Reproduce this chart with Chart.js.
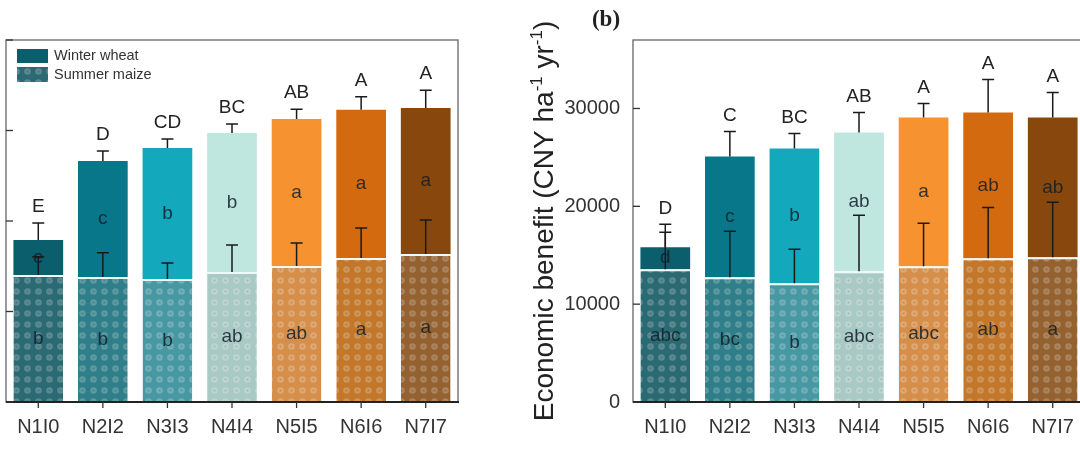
<!DOCTYPE html>
<html>
<head>
<meta charset="utf-8">
<script src="https://cdn.jsdelivr.net/npm/chart.js"></script>
<style>
  body { margin: 0; background: #fff; overflow: hidden; width: 1080px; height: 459px; position: relative; }
  canvas { position: absolute; top: 0; }
</style>
</head>
<body>
<canvas id="chartA" width="500" height="459" style="left:0"></canvas>
<canvas id="chartB" width="620" height="459" style="left:480px"></canvas>
<script>
const categories = ['N1I0', 'N2I2', 'N3I3', 'N4I4', 'N5I5', 'N6I6', 'N7I7'];

// panel (a) - tick labels are cut off in the source, values read on a 0-20000 scale
const leftMaize = [7020, 6910, 6800, 7180, 7510, 7960, 8180];
const leftWheat = [1930, 6410, 7230, 7680, 8120, 8180, 8060];
const leftTotalErr = [940, 550, 500, 500, 550, 720, 990];
const leftMaizeErr = [1000, 1330, 880, 1490, 1270, 1660, 1880];
const leftTopLetters = ['E', 'D', 'CD', 'BC', 'AB', 'A', 'A'];
const leftWheatLetters = ['e', 'c', 'b', 'b', 'a', 'a', 'a'];
const leftMaizeLetters = ['b', 'b', 'b', 'ab', 'ab', 'a', 'a'];
const leftTicks = [0, 5000, 10000, 15000, 20000];

// panel (b) - economic benefit
const rightMaize = [13570, 12760, 12140, 13370, 13880, 14690, 14800];
const rightWheat = [2250, 12340, 13780, 14180, 15200, 14900, 14280];
const rightTotalErr = [1530, 2550, 1530, 2040, 1430, 3370, 2550];
const rightMaizeErr = [4590, 4690, 3470, 5710, 4390, 5200, 5610];
const rightTopLetters = ['D', 'C', 'BC', 'AB', 'A', 'A', 'A'];
const rightWheatLetters = ['d', 'c', 'b', 'ab', 'a', 'ab', 'ab'];
const rightMaizeLetters = ['abc', 'bc', 'b', 'abc', 'abc', 'ab', 'a'];
const rightTicks = [0, 10000, 20000, 30000];

const wheatColors = ['#0b5e6b', '#08778a', '#13a8bc', '#bfe6df', '#f6922f', '#d46a10', '#87470d'];
const maizeColors = ['#2b6a72', '#2f7e89', '#4898a4', '#a9c9c5', '#d68f4a', '#c2772a', '#946130'];

const FONT = "'Liberation Sans', Arial, sans-serif";

// dotted fill used for the summer maize part
function dotPattern(base) {
    const c = document.createElement('canvas');
    c.width = 11; c.height = 11;
    const g = c.getContext('2d');
    g.fillStyle = base;
    g.fillRect(0, 0, 11, 11);
    g.fillStyle = 'rgba(255,255,255,0.22)';
    g.beginPath(); g.arc(5.5, 5.5, 3.3, 0, Math.PI * 2); g.fill();
    g.fillStyle = 'rgba(0,0,0,0.12)';
    g.beginPath(); g.arc(5.5, 5.5, 1.1, 0, Math.PI * 2); g.fill();
    return g.createPattern(c, 'repeat');
}

function errBar(ctx, x, y0, y1) {
    ctx.beginPath();
    ctx.moveTo(x, y0); ctx.lineTo(x, y1);
    ctx.moveTo(x - 6, y1); ctx.lineTo(x + 6, y1);
    ctx.stroke();
}

function makeDecor(d) {
    return {
        id: 'decor',
        afterDraw(chart) {
            const { ctx, chartArea: a, scales: { x, y } } = chart;
            ctx.save();

            // frame
            ctx.strokeStyle = '#666';
            ctx.lineWidth = 1.3;
            ctx.strokeRect(a.left, a.top, a.right - a.left, a.bottom - a.top);
            ctx.strokeStyle = '#222';
            ctx.lineWidth = 2;
            ctx.beginPath(); ctx.moveTo(a.left, a.bottom); ctx.lineTo(a.right + 1, a.bottom); ctx.stroke();

            // inward y ticks, outward x ticks
            ctx.lineWidth = 1.3;
            ctx.strokeStyle = '#333';
            y.ticks.forEach(t => {
                const py = y.getPixelForValue(t.value);
                ctx.beginPath(); ctx.moveTo(a.left, py); ctx.lineTo(a.left + 7, py); ctx.stroke();
            });
            categories.forEach((c, i) => {
                const px = x.getPixelForValue(i);
                ctx.beginPath(); ctx.moveTo(px, a.bottom); ctx.lineTo(px, a.bottom + 6); ctx.stroke();
            });

            // error bars
            ctx.strokeStyle = '#1a1a1a';
            ctx.lineWidth = 1.5;
            categories.forEach((c, i) => {
                const px = x.getPixelForValue(i);
                const m = d.maize[i], total = d.maize[i] + d.wheat[i];
                errBar(ctx, px, y.getPixelForValue(m), y.getPixelForValue(m + d.maizeErr[i]));
                errBar(ctx, px, y.getPixelForValue(total), y.getPixelForValue(total + d.totalErr[i]));
            });

            // letters
            ctx.textAlign = 'center';
            ctx.textBaseline = 'middle';
            categories.forEach((c, i) => {
                const px = x.getPixelForValue(i);
                const m = d.maize[i], total = d.maize[i] + d.wheat[i];
                const capTop = Math.min(y.getPixelForValue(m + d.maizeErr[i]), y.getPixelForValue(total + d.totalErr[i]));
                ctx.fillStyle = '#222';
                ctx.font = '19px ' + FONT;
                ctx.fillText(d.top[i], px, capTop - 16);
                ctx.fillStyle = 'rgba(18,30,40,0.85)';
                ctx.fillText(d.wheatL[i], px, (y.getPixelForValue(m) + y.getPixelForValue(total)) / 2);
                ctx.fillText(d.maizeL[i], px, (y.getPixelForValue(0) + y.getPixelForValue(m)) / 2);
            });

            if (d.legend) {
                ctx.fillStyle = wheatColors[0];
                ctx.fillRect(17, 49, 31, 14);
                ctx.fillStyle = dotPattern(maizeColors[0]);
                ctx.fillRect(17, 67, 31, 15);
                ctx.fillStyle = '#333';
                ctx.textAlign = 'left';
                ctx.font = '14.5px ' + FONT;
                ctx.fillText('Winter wheat', 54, 56);
                ctx.fillText('Summer maize', 54, 75);
            }

            if (d.title) {
                // y axis title with superscripts
                const parts = [['Economic benefit (CNY ha', false], ['-1', true], [' yr', false], ['-1', true], [')', false]];
                const big = '28px ' + FONT, small = '17px ' + FONT;
                let w = 0;
                parts.forEach(p => { ctx.font = p[1] ? small : big; w += ctx.measureText(p[0]).width; });
                ctx.translate(63, (a.top + a.bottom) / 2);
                ctx.rotate(-Math.PI / 2);
                ctx.fillStyle = '#222';
                ctx.textAlign = 'left';
                ctx.textBaseline = 'alphabetic';
                let cx = -w / 2;
                parts.forEach(p => {
                    ctx.font = p[1] ? small : big;
                    ctx.fillText(p[0], cx, p[1] ? -1 : 10);
                    cx += ctx.measureText(p[0]).width;
                });
                ctx.setTransform(1, 0, 0, 1, 0, 0);
                ctx.font = 'bold 23px "Liberation Serif", serif';
                ctx.textAlign = 'center';
                ctx.textBaseline = 'middle';
                ctx.fillText('(b)', 126, 20);
            }
            ctx.restore();
        }
    };
}

function buildChart(id, d) {
    const ctx = document.getElementById(id).getContext('2d');
    return new Chart(ctx, {
        type: 'bar',
        data: {
            labels: categories,
            datasets: [
                {
                    label: 'Summer maize',
                    data: d.maize,
                    backgroundColor: maizeColors.map(dotPattern),
                    borderColor: 'rgba(235,250,250,0.95)',
                    borderWidth: { top: 2, left: 0, right: 0, bottom: 0 },
                    borderSkipped: false
                },
                {
                    label: 'Winter wheat',
                    data: d.wheat,
                    backgroundColor: wheatColors,
                    borderWidth: 0
                }
            ]
        },
        options: {
            responsive: false,
            animation: false,
            events: [],
            layout: { padding: { top: 40, right: d.padRight, left: 0, bottom: 0 } },
            datasets: { bar: { barPercentage: 0.77, categoryPercentage: 1 } },
            plugins: { legend: { display: false }, tooltip: { enabled: false } },
            scales: {
                x: {
                    stacked: true,
                    grid: { display: false, drawTicks: false },
                    border: { display: false },
                    ticks: { color: '#333', font: { size: 20, family: FONT }, padding: 13, maxRotation: 0 },
                    afterFit: s => { s.height = 57; }
                },
                y: {
                    stacked: true,
                    min: 0,
                    max: d.max,
                    grid: { display: false, drawTicks: false },
                    border: { display: false },
                    ticks: {
                        display: d.showTicks, autoSkip: false, color: '#333',
                        font: { size: 20, family: FONT }, padding: 13,
                        callback: v => String(v)
                    },
                    afterBuildTicks: s => { s.ticks = d.ticks.map(v => ({ value: v })); },
                    afterFit: s => { s.width = d.axisWidth; }
                }
            }
        },
        plugins: [makeDecor(d)]
    });
}

buildChart('chartA', {
    maize: leftMaize, wheat: leftWheat, totalErr: leftTotalErr, maizeErr: leftMaizeErr,
    top: leftTopLetters, wheatL: leftWheatLetters, maizeL: leftMaizeLetters, ticks: leftTicks,
    max: 20000, showTicks: false, axisWidth: 6, padRight: 42, legend: true
});

buildChart('chartB', {
    maize: rightMaize, wheat: rightWheat, totalErr: rightTotalErr, maizeErr: rightMaizeErr,
    top: rightTopLetters, wheatL: rightWheatLetters, maizeL: rightMaizeLetters, ticks: rightTicks,
    max: 37000, showTicks: true, axisWidth: 153, padRight: 15, title: true
});
</script>
</body>
</html>
